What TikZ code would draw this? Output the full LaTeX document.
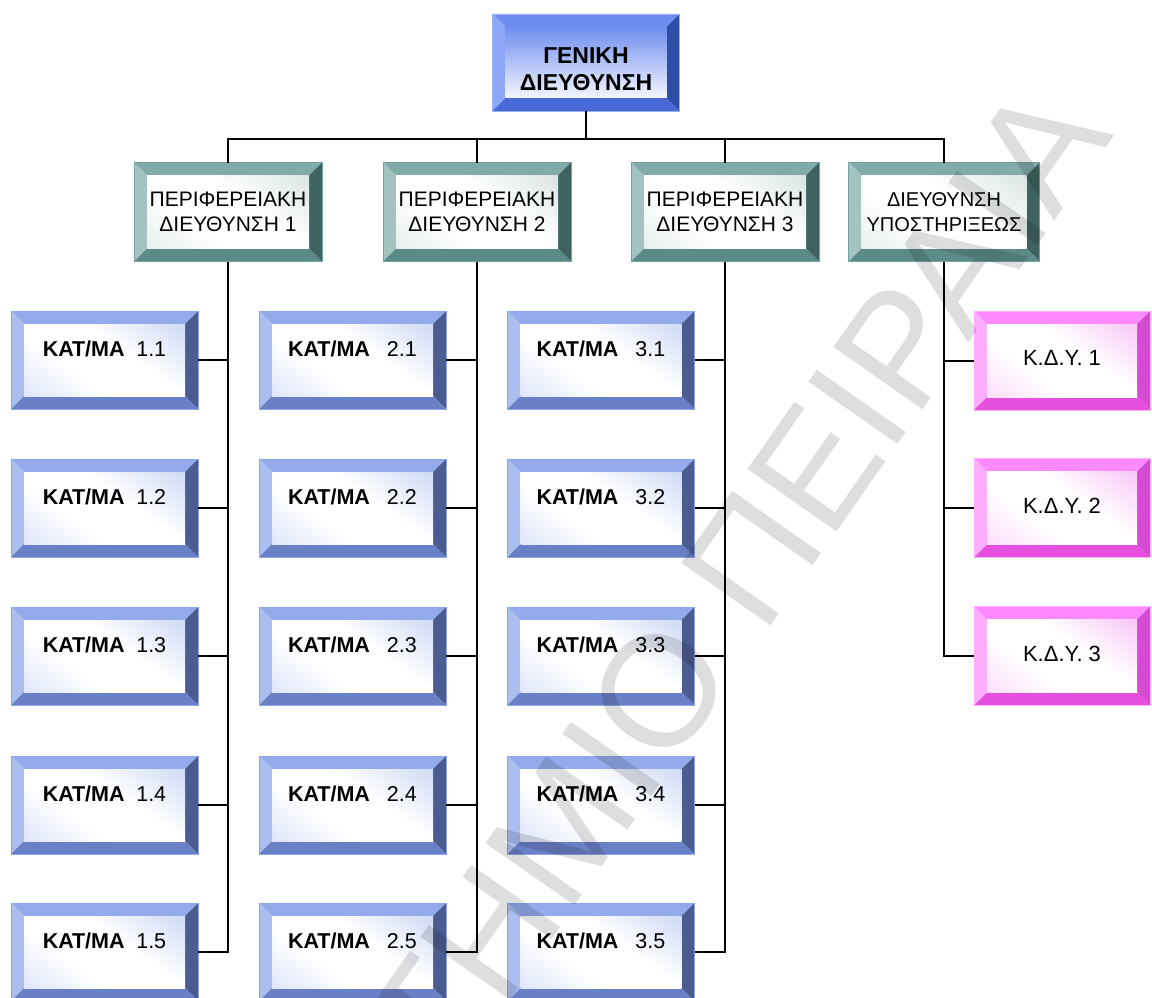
\documentclass[tikz,border=0pt]{standalone}
\usepackage{fontspec}
\setmainfont{Liberation Sans}
\usetikzlibrary{calc}

% bevel palettes: T top, L left, R right, B bottom, I/J inner shading, O outline
\definecolor{genT}{HTML}{6E8DEF}
\definecolor{genL}{HTML}{8DA6F5}
\definecolor{genR}{HTML}{2F4CA6}
\definecolor{genB}{HTML}{4A69D9}
\definecolor{genI}{HTML}{6F8EEF}
\definecolor{genJ}{HTML}{F3F6FF}
\definecolor{genO}{HTML}{9AB0F5}

\definecolor{grnT}{HTML}{80ABA9}
\definecolor{grnL}{HTML}{A3C3C1}
\definecolor{grnR}{HTML}{3F6361}
\definecolor{grnB}{HTML}{5C8A87}
\definecolor{grnI}{HTML}{C4D5D4}
\definecolor{grnJ}{HTML}{D8E3E2}
\definecolor{grnO}{HTML}{74A09D}

\definecolor{bluT}{HTML}{93ABEB}
\definecolor{bluL}{HTML}{AABEF2}
\definecolor{bluR}{HTML}{4B5D90}
\definecolor{bluB}{HTML}{6A80C6}
\definecolor{bluI}{HTML}{B2C4EF}
\definecolor{bluJ}{HTML}{C8D4F5}
\definecolor{bluO}{HTML}{8DA6EA}

\definecolor{pnkT}{HTML}{FF8AFF}
\definecolor{pnkL}{HTML}{FFADFF}
\definecolor{pnkR}{HTML}{D64BD3}
\definecolor{pnkB}{HTML}{E550DF}
\definecolor{pnkI}{HTML}{F6A6F4}
\definecolor{pnkJ}{HTML}{FBC8FB}
\definecolor{pnkO}{HTML}{FFB0FF}

% inner faces: tinted corners with a white band across the middle
\pgfdeclareverticalshading{grnface}{100bp}{color(0bp)=(grnJ); color(38bp)=(white); color(58bp)=(white); color(100bp)=(grnI)}
\pgfdeclareverticalshading{bluface}{100bp}{color(0bp)=(bluJ); color(38bp)=(white); color(58bp)=(white); color(100bp)=(bluI)}
\pgfdeclareverticalshading{pnkface}{100bp}{color(0bp)=(pnkJ); color(38bp)=(white); color(58bp)=(white); color(100bp)=(pnkI)}

\tikzset{
  genshade/.style={top color=genI, bottom color=genJ},
  grnshade/.style={shading=grnface, shading angle=-35},
  blushade/.style={shading=bluface, shading angle=-35},
  pnkshade/.style={shading=pnkface, shading angle=-35},
  bevbox/.style={rectangle, inner sep=0pt, outer sep=0pt, draw=#1O, line width=0.8pt,
    path picture={
      \coordinate (bvsw) at (path picture bounding box.south west);
      \coordinate (bvne) at (path picture bounding box.north east);
      \coordinate (bvnw) at (path picture bounding box.north west);
      \coordinate (bvse) at (path picture bounding box.south east);
      \coordinate (ivsw) at ([xshift=13pt,yshift=13pt]bvsw);
      \coordinate (ivne) at ([xshift=-13pt,yshift=-13pt]bvne);
      \coordinate (ivnw) at ([xshift=13pt,yshift=-13pt]bvnw);
      \coordinate (ivse) at ([xshift=-13pt,yshift=13pt]bvse);
      \fill[#1T] (bvnw) -- (bvne) -- (ivne) -- (ivnw) -- cycle;
      \fill[#1L] (bvnw) -- (ivnw) -- (ivsw) -- (bvsw) -- cycle;
      \fill[#1R] (bvne) -- (bvse) -- (ivse) -- (ivne) -- cycle;
      \fill[#1B] (bvsw) -- (ivsw) -- (ivse) -- (bvse) -- cycle;
      \shade[#1shade] (ivsw) rectangle (ivne);
    }},
  conn/.style={draw=black, line width=2pt},
  gentext/.style={inner sep=0pt, align=center, yshift=-6.5pt,
    font=\fontsize{23}{27.5}\selectfont\bfseries},
  grntext/.style={inner sep=0pt, align=center,
    font=\fontsize{21}{25.5}\selectfont},
  kattext/.style={inner sep=0pt, yshift=11pt, font=\fontsize{21.5}{25}\selectfont},
  pnktext/.style={inner sep=0pt, yshift=2.5pt, font=\fontsize{22}{26}\selectfont},
}

\begin{document}
\begin{tikzpicture}[x=1pt, y=-1pt]
\useasboundingbox (0,0) rectangle (1152,998);

% head office
\node[bevbox=gen, minimum width=187pt, minimum height=97pt,
      label={[gentext]center:{ΓΕΝΙΚΗ\\ΔΙΕΥΘΥΝΣΗ}}] (gen) at (586,62.5) {};

% regional and support directorates
\node[bevbox=grn, minimum width=188pt, minimum height=99pt,
      label={[grntext]center:{ΠΕΡΙΦΕΡΕΙΑΚΗ\\ΔΙΕΥΘΥΝΣΗ 1}}] (p1) at (228,212) {};
\node[bevbox=grn, minimum width=188pt, minimum height=99pt,
      label={[grntext]center:{ΠΕΡΙΦΕΡΕΙΑΚΗ\\ΔΙΕΥΘΥΝΣΗ 2}}] (p2) at (477,212) {};
\node[bevbox=grn, minimum width=188pt, minimum height=99pt,
      label={[grntext]center:{ΠΕΡΙΦΕΡΕΙΑΚΗ\\ΔΙΕΥΘΥΝΣΗ 3}}] (p3) at (725,212) {};
\node[bevbox=grn, minimum width=191pt, minimum height=99pt,
      label={[grntext, font=\fontsize{20}{25.5}\selectfont]center:{ΔΙΕΥΘΥΝΣΗ\\ΥΠΟΣΤΗΡΙΞΕΩΣ}}] (p4) at (944,212) {};

% branches
\foreach \c/\cx/\g in {1/104.5/11.7, 2/352.5/17, 3/601/17}{
  \foreach \r/\ry in {1/360, 2/508, 3/656, 4/805, 5/952}{
    \node[bevbox=blu, minimum width=187pt, minimum height=98pt,
          label={[kattext]center:{\textbf{ΚΑΤ/ΜΑ}\hspace{\g pt}\c.\r}}] (k\c\r) at (\cx,\ry) {};
  }
}

% support units
\foreach \r/\ry in {1/360.5, 2/508, 3/656}{
  \node[bevbox=pnk, minimum width=176pt, minimum height=99pt,
        label={[pnktext]center:{Κ.Δ.Υ. \r}}] (d\r) at (1062,\ry) {};
}

% connectors
\coordinate (bus) at (586,139);
\draw[conn] (gen.south) -- (bus);
\draw[conn] (p1.north) |- (bus) -| (p4.north);
\draw[conn] (p2.north) -- (p2.north |- bus);
\draw[conn] (p3.north) -- (p3.north |- bus);

\draw[conn] (p1.south) |- (k15.east);
\draw[conn] (p2.south) |- (k25.east);
\draw[conn] (p3.south) |- (k35.east);
\foreach \r in {1,2,3,4}{
  \draw[conn] (k1\r.east) -- (k1\r.east -| p1.south);
  \draw[conn] (k2\r.east) -- (k2\r.east -| p2.south);
  \draw[conn] (k3\r.east) -- (k3\r.east -| p3.south);
}
\draw[conn] (p4.south) |- (d3.west);
\draw[conn] (d1.west) -- (d1.west -| p4.south);
\draw[conn] (d2.west) -- (d2.west -| p4.south);

% watermark
\begin{scope}
  \clip (0,0) rectangle (1152,998);
  \node[rotate=55, anchor=base east, inner sep=0pt, text=black, text opacity=0.13,
        font=\fontsize{158}{158}\selectfont] (wm) at (1115,135) {ΠΑΝΕΠΙΣΤΗΜΙΟ ΠΕΙΡΑΙΑ};
\end{scope}
\end{tikzpicture}
\end{document}
